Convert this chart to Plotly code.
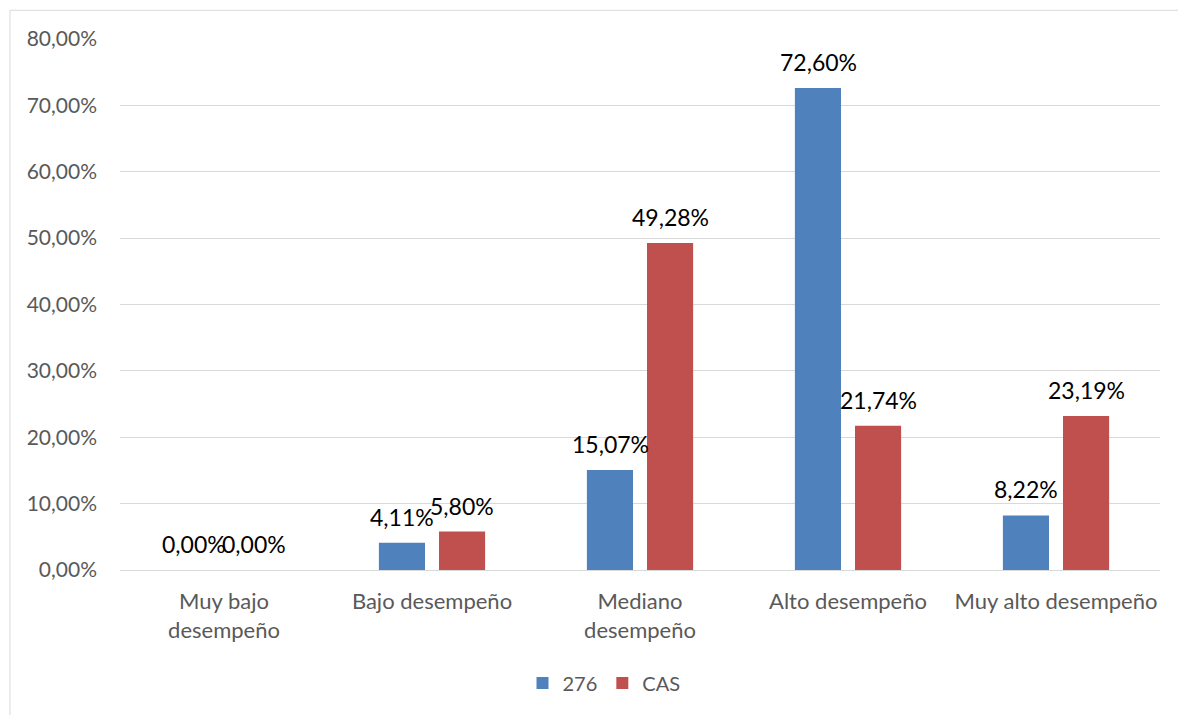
import plotly.graph_objects as go

# Performance levels and the share of each group in them (percent)
categories = ["Muy bajo<br>desempeño", "Bajo desempeño", "Mediano<br>desempeño",
              "Alto desempeño", "Muy alto desempeño"]
series_names = ["276", "CAS"]
values_276 = [0.00, 4.11, 15.07, 72.60, 8.22]
values_cas = [0.00, 5.80, 49.28, 21.74, 23.19]
tick_values = [0, 10, 20, 30, 40, 50, 60, 70, 80]

colors = ["#4F81BD", "#C0504D"]
font_family = "Lato, 'Open Sans', sans-serif"


def pct(v):
    return f"{v:.2f}".replace(".", ",") + "%"


fig = go.Figure()
for name, vals, col in zip(series_names, [values_276, values_cas], colors):
    fig.add_trace(go.Bar(
        x=categories, y=vals, name=name,
        marker=dict(color=col, line=dict(width=0)),
    ))

# Value labels above each bar
annotations = []
for idx, vals in enumerate([values_276, values_cas]):
    offset = -30 if idx == 0 else 30
    for cat, v in zip(categories, vals):
        annotations.append(dict(
            x=cat, y=v, xref="x", yref="y", text=pct(v), showarrow=False,
            xanchor="center", yanchor="bottom", xshift=offset, yshift=10,
            font=dict(family=font_family, size=23, color="#000000"),
        ))

L, R, T, B = 120, 18, 38.7, 145
W, H = 1178, 715
pw, ph = W - L - R, H - T - B

fig.update_layout(
    width=W, height=H,
    margin=dict(l=L, r=R, t=T, b=B),
    paper_bgcolor="white", plot_bgcolor="white",
    separators=",.",
    barmode="group", bargap=0.422, bargroupgap=0.233,
    font=dict(family=font_family, size=20, color="#595959"),
    showlegend=True,
    legend=dict(orientation="h", x=(604 - L) / pw, xanchor="center",
                y=(570 - 683) / ph, yanchor="middle",
                font=dict(size=20, color="#595959"), traceorder="normal"),
    annotations=annotations,
    shapes=[dict(type="rect", xref="paper", yref="paper",
                 x0=(10 - L) / pw, x1=(W + 20 - L) / pw,
                 y0=-(H + 20 - T - ph) / ph - 1, y1=1 + (T - 10) / ph,
                 line=dict(color="#D9D9D9", width=1), fillcolor="rgba(0,0,0,0)",
                 layer="below")],
)
fig.update_xaxes(showgrid=False, showline=False, ticks="",
                 tickfont=dict(size=22, color="#595959"), ticklabelstandoff=16)
fig.update_yaxes(range=[0, 80], tickvals=tick_values,
                 ticktext=[pct(v) for v in tick_values],
                 showgrid=True, gridcolor="#D9D9D9", gridwidth=1,
                 zeroline=True, zerolinecolor="#D9D9D9", zerolinewidth=1,
                 showline=False, ticks="", ticklabelstandoff=22,
                 tickfont=dict(size=21, color="#595959"))

fig.write_html("out.html")
